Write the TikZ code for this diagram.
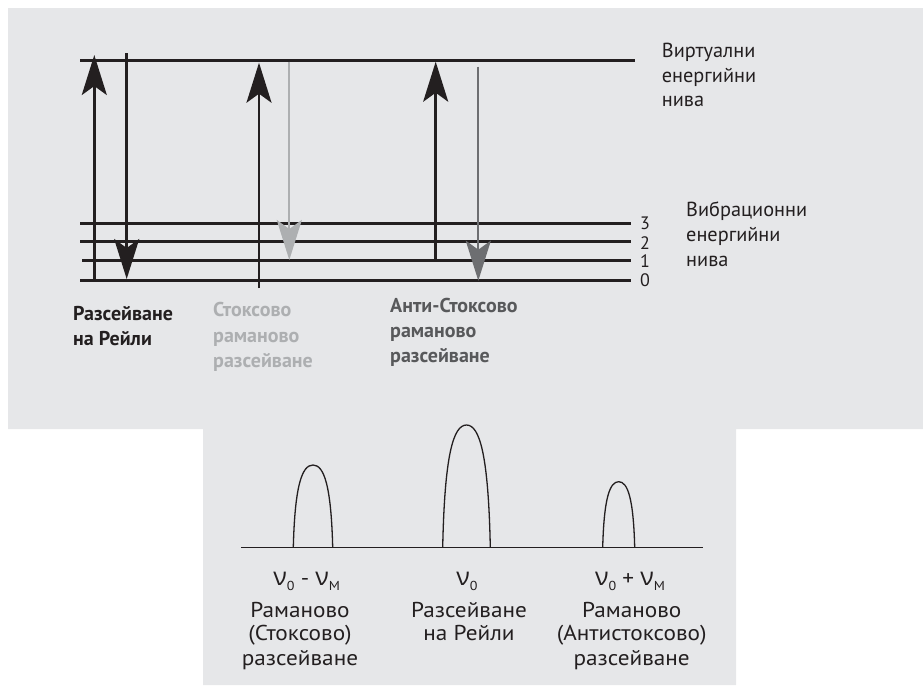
\documentclass[tikz,border=0pt]{standalone}
\usepackage{fontspec}
\setmainfont{PT Sans}
\newfontfamily\grk{Open Sans}
\newfontfamily\widefont{PT Sans}[FakeStretch=1.08]
\usetikzlibrary{arrows.meta}
\definecolor{bg}{HTML}{E6E7E9}
\definecolor{ink}{HTML}{231F20}
\definecolor{lgray}{HTML}{ADAFB1}
\definecolor{dgray}{HTML}{6D6E71}
\definecolor{dtext}{HTML}{58595B}
\newcommand\mypeak[3]{% x1, x2, ytop
  \draw[peakline] (#1,547.3) .. controls ({#1+0.04*(#2-#1)},{547.3-0.75*(547.3-#3)}) and ({(#1+#2)/2-0.28*(#2-#1)},#3) .. ({(#1+#2)/2},#3)
    .. controls ({(#1+#2)/2+0.28*(#2-#1)},#3) and ({#2-0.04*(#2-#1)},{547.3-0.75*(547.3-#3)}) .. (#2,547.3);}
\newcommand\nusym{{\grk\fontsize{25}{25}\selectfont ν}}
\newcommand\nusub[1]{\raisebox{-5.5pt}{\fontsize{13}{13}\selectfont #1}}
\begin{document}
\begin{tikzpicture}[x=1pt,y=-1pt,
  level/.style={line width=3pt, draw=ink},
  headtip/.style={-{Stealth[length=40pt,width=25pt,inset=9pt]}},
  blackarrow/.style={line width=2.6pt, draw=ink, headtip},
  lightarrow/.style={line width=2.2pt, draw=lgray, headtip},
  darkarrow/.style={line width=2.2pt, draw=dgray, headtip},
  lbl/.style={anchor=base west, inner sep=0pt, font=\fontsize{20.3}{24}\selectfont, text=ink},
  blbl/.style={anchor=base west, inner sep=0pt, font=\fontsize{20}{24}\selectfont\bfseries},
  num/.style={anchor=base west, inner sep=0pt, font=\fontsize{18}{18}\selectfont, text=ink},
  clbl/.style={anchor=base, inner sep=0pt, font=\widefont\fontsize{21.5}{24}\selectfont, text=ink},
  peakline/.style={line width=1.3pt, draw=ink},
]
\useasboundingbox (0,0) rectangle (923,689);
\fill[bg] (8,8) -- (923,8) -- (923,429) -- (736,429) -- (736,685) -- (203,685) -- (203,429) -- (8,429) -- cycle;

% energy levels
\coordinate (V0) at (80,60.7);   \coordinate (V1) at (635,60.7);
\coordinate (L3a) at (80,223.3); \coordinate (L3b) at (631,223.3);
\coordinate (L2a) at (80,241.7); \coordinate (L2b) at (631,241.7);
\coordinate (L1a) at (82,260.7); \coordinate (L1b) at (631,260.7);
\coordinate (L0a) at (80,280.7); \coordinate (L0b) at (631,280.7);
\draw[level] (V0) -- (V1);
\draw[level] (L3a) -- (L3b);
\draw[level] (L2a) -- (L2b);
\draw[level] (L1a) -- (L1b);
\draw[level] (L0a) -- (L0b);

\node[num] (n3) at (640,229.3) {3};
\node[num] (n2) at (640,249.3) {2};
\node[num] (n1) at (640,267.7) {1};
\node[num] (n0) at (640,286.7) {0};

% arrows
\coordinate (ru0) at (94.3,280.7);  \coordinate (ru1) at (94.3,55);
\coordinate (rd0) at (126.7,53);    \coordinate (rd1) at (126.7,279);
\coordinate (su0) at (259,288);     \coordinate (su1) at (259,62.7);
\coordinate (sd0) at (289.3,61.7);  \coordinate (sd1) at (289.3,260);
\coordinate (au0) at (435.7,260.7); \coordinate (au1) at (435.7,61.7);
\coordinate (ad0) at (478.3,66.7);  \coordinate (ad1) at (478.3,280.7);
\draw[blackarrow] (ru0) -- (ru1);
\draw[blackarrow] (rd0) -- (rd1);
\draw[blackarrow] (su0) -- (su1);
\draw[lightarrow] (sd0) -- (sd1);
\draw[blackarrow] (au0) -- (au1);
\draw[darkarrow] (ad0) -- (ad1);

% right labels
\node[lbl] (v1) at (661.7,57.7) {Виртуални};
\node[lbl] (v2) at (661.7,82) {енергийни};
\node[lbl] (v3) at (661.7,106.3) {нива};
\node[lbl] (b1) at (686,216.7) {Вибрационни};
\node[lbl] (b2) at (686,241.7) {енергийни};
\node[lbl] (b3) at (686,266.7) {нива};

% bottom labels of top panel
\node[blbl, text=ink] (r1) at (73,320.7) {Разсейване};
\node[blbl, text=ink] (r2) at (73,345.7) {на Рейли};
\node[blbl, text=lgray] (s1) at (213,316.7) {Стоксово};
\node[blbl, text=lgray] (s2) at (213,342.3) {раманово};
\node[blbl, text=lgray] (s3) at (213,367.3) {разсейване};
\node[blbl, text=dtext] (a1) at (390,312.3) {Анти-Стоксово};
\node[blbl, text=dtext] (a2) at (390,337.3) {раманово};
\node[blbl, text=dtext] (a3) at (390,362.3) {разсейване};

% spectrum
\coordinate (ax0) at (241,547.3); \coordinate (ax1) at (702.7,547.3);
\draw[peakline] (ax0) -- (ax1);
\mypeak{293.3}{332.7}{465}
\mypeak{442.7}{490.3}{425}
\mypeak{602.7}{634.7}{481.7}

\node[clbl] (f1) at (306.7,585) {\nusym\nusub{0} - \nusym\nusub{M}};
\node[clbl] (f2) at (467,585) {\nusym\nusub{0}};
\node[clbl] (f3) at (630,585) {\nusym\nusub{0} + \nusym\nusub{M}};

\node[clbl] (p1) at (300,617.3) {Раманово};
\node[clbl] (p2) at (300,640.7) {(Стоксово)};
\node[clbl] (p3) at (300,665) {разсейване};
\node[clbl] (q1) at (469,617.3) {Разсейване};
\node[clbl] (q2) at (469,640.7) {на Рейли};
\node[clbl] (w1) at (631.7,617.3) {Раманово};
\node[clbl] (w2) at (631.7,640.7) {(Антистоксово)};
\node[clbl] (w3) at (631.7,665) {разсейване};
\end{tikzpicture}
\end{document}
